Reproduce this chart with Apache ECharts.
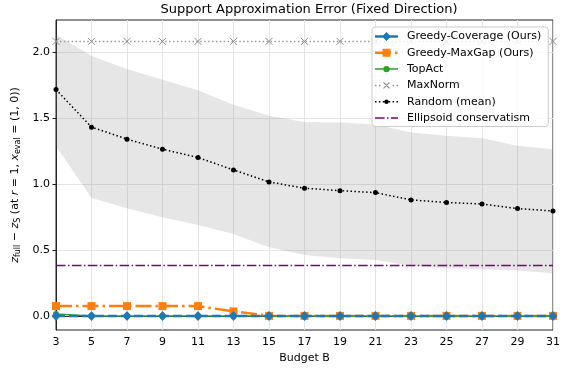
<!DOCTYPE html>
<html><head><meta charset="utf-8">
<script src="https://cdn.jsdelivr.net/npm/echarts@6/dist/echarts.min.js"></script>
<style>html,body{margin:0;padding:0;background:#fff}#c{width:569px;height:369px}</style>
</head><body><div id="c"></div>
<script>
const budgets = ['3','5','7','9','11','13','15','17','19','21','23','25','27','29','31'];
const greedyCoverage = [0,0,0,0,0,0,0,0,0,0,0,0,0,0,0];
const greedyMaxGap = [0.074,0.074,0.074,0.074,0.074,0.034,0,0,0,0,0,0,0,0,0];
const topAct = [0.015,0,0,0,0,0,0,0,0,0,0,0,0,0,0];
const maxNorm = [2.08,2.08,2.08,2.08,2.08,2.08,2.08,2.08,2.08,2.08,2.08,2.08,2.08,2.08,2.08];
const randomMean = [1.715,1.43,1.339,1.263,1.20,1.106,1.015,0.967,0.949,0.934,0.879,0.859,0.848,0.813,0.795];
const randomLow = [1.287,0.893,0.816,0.747,0.689,0.621,0.520,0.462,0.437,0.424,0.379,0.361,0.354,0.343,0.323];
const randomHigh = [2.13,1.97,1.87,1.79,1.71,1.60,1.517,1.47,1.465,1.45,1.39,1.364,1.346,1.29,1.263];
const ellipsoid = [0.381,0.381,0.381,0.381,0.381,0.381,0.381,0.381,0.381,0.381,0.381,0.381,0.381,0.381,0.381];
const yTicks = [0,0.5,1.0,1.5,2.0];

const bandDiff = randomHigh.map((h,i)=>h-randomLow[i]);
const F = 'DejaVu Sans';
const chart = echarts.init(document.getElementById('c'), null, {renderer:'canvas'});
const xPath = 'path://M0,0L10,10M10,0L0,10';

// legend handle icons (23 x 10 box)
const corners = 'M0,0L0.01,0L0,0.01Z M23,10L22.99,10L23,9.99Z ';
function rect(x0,x1,y0,y1){return `M${x0},${y0}L${x1},${y0}L${x1},${y1}L${x0},${y1}Z `;}
function circ(cx,cy,r){return `M${cx+r},${cy}A${r},${r} 0 1 1 ${cx-r},${cy}A${r},${r} 0 1 1 ${cx+r},${cy}Z `;}
function dots(xs,th){return xs.map(x=>rect(x,x+1.5,5-th/2,5+th/2)).join('');}
const icons = {
  cov: 'path://'+corners+rect(0,23,3.75,6.25)+'M11.5,0.5L16,5L11.5,9.5L7,5Z',
  gap: 'path://'+corners+rect(0,16,3.75,6.25)+rect(20,22.5,3.75,6.25)+rect(7.5,15.5,1,9),
  top: 'path://'+corners+rect(0,23,4.25,5.75)+circ(11.5,5,3.2),
  max: 'path://'+corners+dots([0,3.9,17.6,21.5],1.5)+
       'M8.92,1.58L14.92,7.58L14.08,8.42L8.08,2.42Z M14.92,2.42L8.92,8.42L8.08,7.58L14.08,1.58Z',
  rnd: 'path://'+corners+dots([0,3.9,7.8,13.7,17.6,21.5],1.5)+circ(11.5,5,2.2),
  ell: 'path://'+corners+rect(0,9.6,4.25,5.75)+rect(12,13.5,4.25,5.75)+rect(15.9,23,4.25,5.75)
};

chart.setOption({
  animation:false,
  textStyle:{fontFamily:F},
  title:{text:'Support Approximation Error (Fixed Direction)', left:304, top:-2, textAlign:'center',
    textStyle:{fontFamily:F,fontSize:13,fontWeight:'normal',color:'#000'}},
  grid:{left:56,right:16,top:20,bottom:39,show:true,borderColor:'#222',borderWidth:1,backgroundColor:'transparent'},
  legend:{
    data:[
      {name:'Greedy-Coverage (Ours)',icon:icons.cov,itemStyle:{borderWidth:0}},
      {name:'Greedy-MaxGap (Ours)',icon:icons.gap,itemStyle:{borderWidth:0}},
      {name:'TopAct',icon:icons.top,itemStyle:{borderWidth:0}},
      {name:'MaxNorm',icon:icons.max,itemStyle:{borderWidth:0}},
      {name:'Random (mean)',icon:icons.rnd,itemStyle:{borderWidth:0}},
      {name:'Ellipsoid conservatism',icon:icons.ell,itemStyle:{borderWidth:0}}
    ],
    orient:'vertical', left:372, top:27, itemWidth:23, itemHeight:10, itemGap:5.3,
    padding:[4,7,3,3], borderColor:'#cccccc', borderWidth:1, borderRadius:3,
    backgroundColor:'rgba(255,255,255,0.85)',
    textStyle:{fontFamily:F,fontSize:11,color:'#000',padding:[0,0,0,4]}
  },
  xAxis:{type:'category', data:budgets, boundaryGap:false,
    name:'Budget B', nameLocation:'middle', nameGap:23,
    nameTextStyle:{fontFamily:F,fontSize:11,color:'#000'},
    axisLine:{lineStyle:{color:'#222',width:1}},
    axisTick:{show:true,length:3.5,inside:false,alignWithLabel:true,lineStyle:{color:'#222'}},
    axisLabel:{fontFamily:F,fontSize:11,color:'#000',margin:6.5,interval:0},
    splitLine:{show:true,lineStyle:{color:'#e4e4e4',width:1}}
  },
  yAxis:{type:'value', min:-0.107, max:2.242,
    name:'{i|z}{s|full} − {i|z}{s|S} (at {i|r} = 1, {i|x}{s|eval} = (1, 0))',
    nameLocation:'middle', nameRotate:90, nameGap:28,
    nameTextStyle:{fontFamily:F,fontSize:11,color:'#000',
      rich:{i:{fontStyle:'italic',fontSize:11,fontFamily:F,color:'#000'},
            s:{fontSize:8,fontFamily:F,color:'#000',padding:[5,0,0,0]}}},
    axisLine:{show:true,lineStyle:{color:'#222',width:1}},
    axisTick:{show:true,length:3.5,customValues:yTicks,lineStyle:{color:'#222'}},
    axisLabel:{fontFamily:F,fontSize:11,color:'#000',margin:6,customValues:yTicks,formatter:v=>v.toFixed(1)},
    splitLine:{show:true,lineStyle:{color:'#e4e4e4',width:1}}
  },
  series:[
    {name:'bandLow', type:'line', data:randomLow, stack:'band', symbol:'none', lineStyle:{opacity:0}, silent:true, z:1},
    {name:'bandDiff', type:'line', data:bandDiff, stack:'band', symbol:'none', lineStyle:{opacity:0},
      areaStyle:{color:'rgba(128,128,128,0.2)',opacity:1}, silent:true, z:1},
    {name:'MaxNorm', type:'line', data:maxNorm, symbol:xPath, symbolSize:7, color:'#8c8c8c',
      itemStyle:{color:'#8c8c8c',borderColor:'#8c8c8c',borderWidth:1},
      lineStyle:{color:'#999999',width:1.5,type:[1.5,2.4]}, z:3},
    {name:'Random (mean)', type:'line', data:randomMean, symbol:'circle', symbolSize:5, color:'#000',
      itemStyle:{color:'#000'}, lineStyle:{color:'#000',width:1.5,type:[1.5,2.4]}, z:4},
    {name:'Ellipsoid conservatism', type:'line', data:ellipsoid, symbol:'none', color:'#800080',
      itemStyle:{color:'#800080'},
      lineStyle:{color:'#800080',width:1.5,type:[9.6,2.4,1.5,2.4]}, z:4},
    {name:'Greedy-MaxGap (Ours)', type:'line', data:greedyMaxGap, symbol:'rect', symbolSize:8, color:'#ff7f0e',
      itemStyle:{color:'#ff7f0e'}, lineStyle:{color:'#ff7f0e',width:2.5,type:[16,4,2.5,4]}, z:5},
    {name:'TopAct', type:'line', data:topAct, symbol:'circle', symbolSize:6, color:'#2ca02c',
      itemStyle:{color:'#2ca02c'}, lineStyle:{color:'#2ca02c',width:1.5}, z:6},
    {name:'Greedy-Coverage (Ours)', type:'line', data:greedyCoverage, symbol:'diamond', symbolSize:[9,10], color:'#1f77b4',
      itemStyle:{color:'#1f77b4'}, lineStyle:{color:'#1f77b4',width:2.5,type:[9,4]}, z:7}
  ]
});
</script></body></html>
